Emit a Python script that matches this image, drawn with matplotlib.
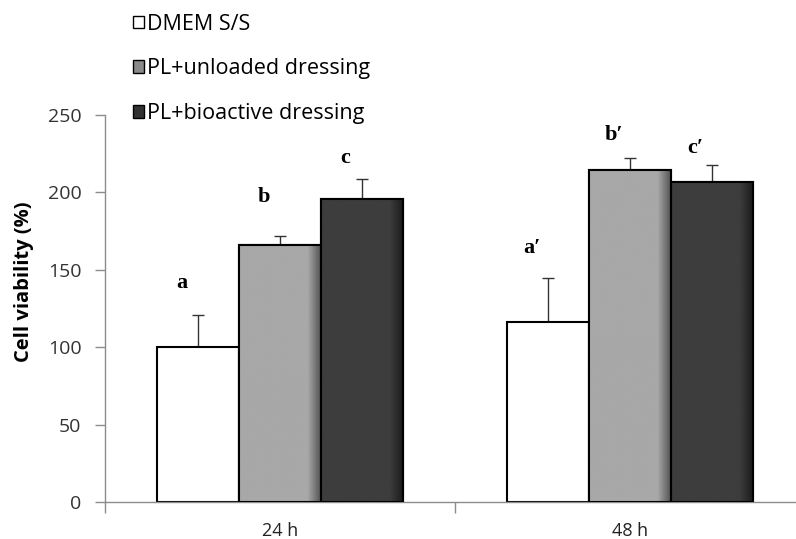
import numpy as np
import matplotlib
matplotlib.use("Agg")
import matplotlib.pyplot as plt
from matplotlib.patches import Patch
from matplotlib.colors import LinearSegmentedColormap

categories = ["24 h", "48 h"]
series = ["DMEM S/S", "PL+unloaded dressing", "PL+bioactive dressing"]
dmem = [100, 116]
unloaded = [166, 214.5]
bioactive = [195.5, 206.5]
dmem_err = [21, 29]
unloaded_err = [6, 7.5]
bioactive_err = [13, 11.5]
letters = [["a", "a\u2032"], ["b", "b\u2032"], ["c", "c\u2032"]]
letter_y = [[141.5, 164], [197, 237], [222, 229]]
yticks = [0, 50, 100, 150, 200, 250]

values = [dmem, unloaded, bioactive]
errors = [dmem_err, unloaded_err, bioactive_err]
base_colors = ["#ffffff", "#a8a8a8", "#3d3d3d"]
edge_colors = [None, "#555555", "#1c1c1c"]

fig = plt.figure(figsize=(7.96, 5.39), dpi=100)
ax = fig.add_axes([105/796, 37/539, 700/796, 387/539])
x = np.arange(len(categories))
w = 0.234
offsets = [-w, 0, w]

for i in range(3):
    bars = ax.bar(x + offsets[i], values[i], width=w, color=base_colors[i],
                  edgecolor="black", linewidth=1.5, zorder=2)
    if edge_colors[i] is not None:
        cmap = LinearSegmentedColormap.from_list(
            "g", [(0, base_colors[i]), (0.84, base_colors[i]), (1.0, edge_colors[i])])
        grad = np.linspace(0, 1, 200).reshape(1, -1)
        for b in bars:
            x0, y0 = b.get_x(), b.get_y()
            im = ax.imshow(grad, cmap=cmap, aspect="auto",
                           extent=[x0, x0 + b.get_width(), y0, y0 + b.get_height()],
                           zorder=2.5, interpolation="bilinear")
            im.set_clip_path(b)
        ax.bar(x + offsets[i], values[i], width=w, fill=False,
               edgecolor="black", linewidth=1.5, zorder=3)
    ax.errorbar(x + offsets[i], values[i], yerr=[[0]*len(x), errors[i]],
                fmt="none", ecolor="#333333", elinewidth=1.0, capsize=4,
                capthick=1.0, zorder=1.5)
    for j in range(len(x)):
        ax.text(x[j] + offsets[i] - 0.047, letter_y[i][j],
                letters[i][j], ha="center", va="center",
                fontfamily="Liberation Serif", fontweight="bold", fontsize=16)

ax.set_xlim(-0.5, 1.5)
ax.set_ylim(0, 250)
ax.set_yticks(yticks)
ax.set_yticklabels([str(t) for t in yticks], fontfamily="Open Sans", fontsize=14,
                   color="#333333")
ax.set_xticks([-0.5, 0.5, 1.5], minor=False)
ax.set_xticklabels([])
ax.tick_params(axis="x", length=8, color="#8c8c8c", width=1)
ax.tick_params(axis="y", length=7, color="#8c8c8c", width=1, pad=10)
for j, c in enumerate(categories):
    ax.text(x[j], -18.5, c, ha="center", va="center", fontfamily="Open Sans",
            fontsize=13, color="#222222", transform=ax.transData, clip_on=False)
for s in ["top", "right"]:
    ax.spines[s].set_visible(False)
for s in ["left", "bottom"]:
    ax.spines[s].set_color("#8c8c8c")
    ax.spines[s].set_linewidth(1)
ax.set_ylabel("Cell viability (%)", fontfamily="Open Sans", fontweight="bold",
              fontsize=14.5)
ax.yaxis.set_label_coords(-71/700, 0.568)

handles = [Patch(facecolor="#ffffff", edgecolor="black"),
           Patch(facecolor="#8a8a8a", edgecolor="black"),
           Patch(facecolor="#333333", edgecolor="black")]
fig.legend(handles, series, loc="upper left", bbox_to_anchor=(124/796, 1 - 5/539),
           frameon=False, prop={"family": "Open Sans", "size": 15.5},
           handlelength=0.55, handleheight=0.55, handletextpad=0.12,
           labelspacing=1.1, borderaxespad=0)

fig.savefig("out.png", dpi=100)
